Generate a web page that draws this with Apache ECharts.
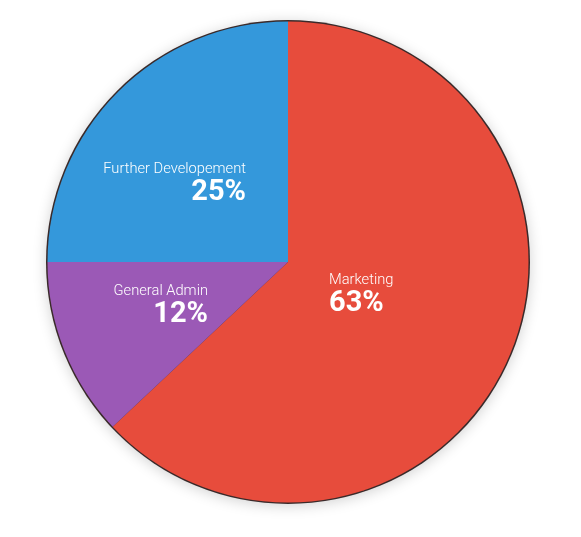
<!DOCTYPE html>
<html>
<head>
<meta charset="utf-8">
<script src="https://cdn.jsdelivr.net/npm/echarts@6/dist/echarts.min.js"></script>
<style>
html,body{margin:0;padding:0;background:#fff;}
#c{width:581px;height:537px;}
</style>
</head>
<body>
<div id="c"></div>
<script>
const categories = ['Marketing', 'General Admin', 'Further Developement'];
const values = [63, 12, 25];
const colors = ['#e74c3c', '#9b59b6', '#3498db'];

// label anchor layout (x, y, align) per slice
const labelAnchors = [
  {x: 329, y: 271, align: 'left'},
  {x: 208, y: 282, align: 'right'},
  {x: 246, y: 160, align: 'right'}
];

const chart = echarts.init(document.getElementById('c'), null, {renderer: 'canvas'});
const data = categories.map((c, i) => ({name: c, value: values[i], itemStyle: {color: colors[i]}}));

chart.setOption({
  animation: false,
  series: [
    {
      type: 'pie',
      silent: true,
      center: [288, 262],
      radius: [0, 242],
      z: 1,
      label: {show: false},
      labelLine: {show: false},
      itemStyle: {color: '#3a2a2a', shadowBlur: 14, shadowColor: 'rgba(0,0,0,0.18)', shadowOffsetY: 2},
      data: [{value: 1, name: ''}]
    },
    {
      type: 'pie',
      center: [288, 262],
      radius: [0, 240.5],
      startAngle: 90,
      clockwise: true,
      z: 2,
      itemStyle: {borderWidth: 0},
      label: {
        show: true,
        position: 'inside',
        fontFamily: 'Roboto',
        formatter: p => '{n|' + p.name + '}\n{p|' + p.value + '%}',
        rich: {
          n: {fontFamily: 'Roboto', fontSize: 14.7, fontWeight: 300, color: '#fff', lineHeight: 18},
          p: {fontFamily: 'Roboto', fontSize: 29, fontWeight: 'bold', color: '#fff', lineHeight: 30}
        }
      },
      labelLayout: function (params) {
        const a = labelAnchors[params.dataIndex];
        return {x: a.x, y: a.y, align: a.align, verticalAlign: 'top'};
      },
      data: data
    }
  ]
});
</script>
</body>
</html>
